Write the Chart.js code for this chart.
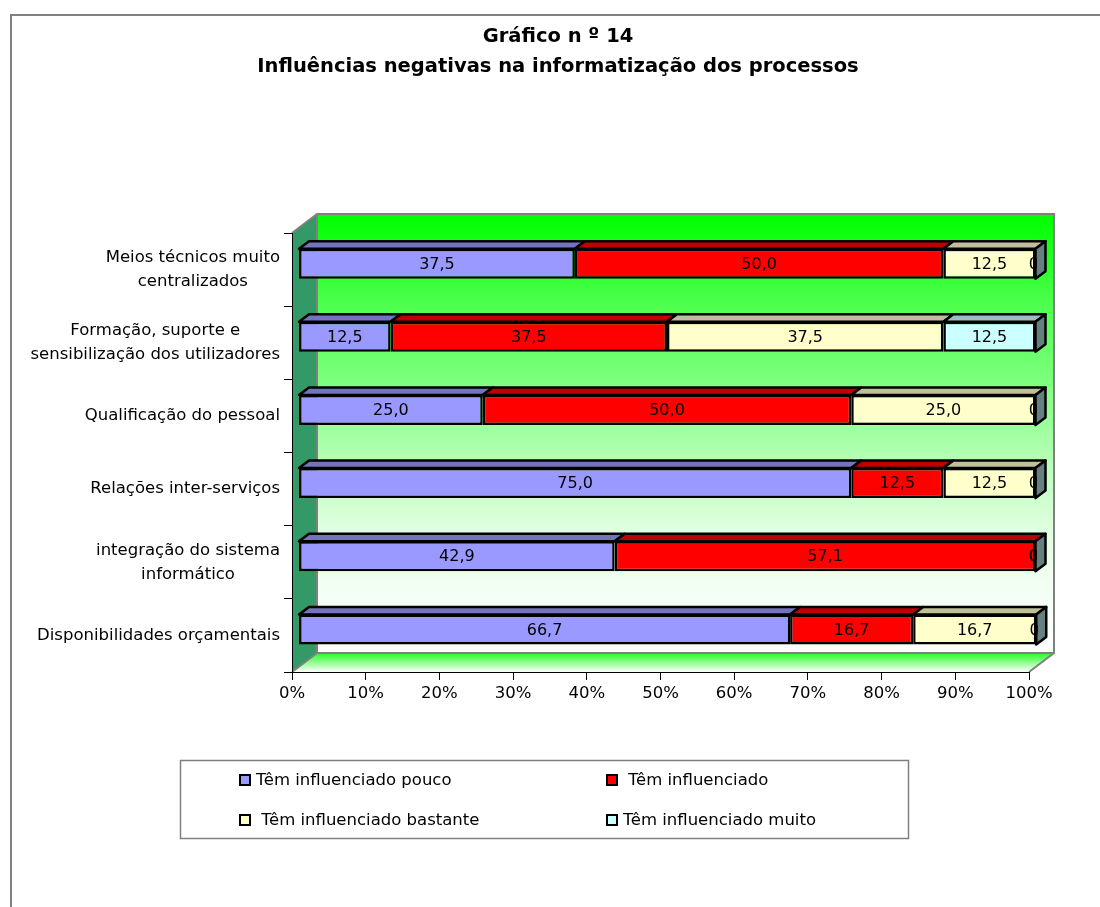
<!DOCTYPE html>
<html lang="pt">
<head>
<meta charset="utf-8">
<title>Gráfico n º 14</title>
<script src="https://cdn.jsdelivr.net/npm/chart.js@4.4.1/dist/chart.umd.min.js"></script>
<style>
  html, body { margin: 0; padding: 0; background: #ffffff; }
  #wrap { position: relative; width: 1100px; height: 907px; }
</style>
</head>
<body>
<div id="wrap"><canvas id="c" width="1100" height="907"></canvas></div>
<script>
// ---- data ----
const titleLines = ['Gráfico n º 14', 'Influências negativas na informatização dos processos'];
const categories = [
  ['Meios técnicos muito', 'centralizados'],
  ['Formação, suporte e', 'sensibilização dos utilizadores'],
  'Qualificação do pessoal',
  'Relações inter-serviços',
  ['integração do sistema', 'informático'],
  'Disponibilidades orçamentais'
];
const seriesNames = ['Têm influenciado pouco', ' Têm influenciado', ' Têm influenciado bastante', 'Têm influenciado muito'];
const pouco        = [37.5, 12.5, 25.0, 75.0, 42.9, 66.7];
const influenciado = [50.0, 37.5, 50.0, 12.5, 57.1, 16.7];
const bastante     = [12.5, 37.5, 25.0, 12.5,  0.0, 16.7];
const muito        = [ 0.0, 12.5,  0.0,  0.0,  0.0,  0.0];
const xTickLabels  = ['0%', '10%', '20%', '30%', '40%', '50%', '60%', '70%', '80%', '90%', '100%'];

// ---- styles ----
const FONT = 'DejaVu Sans';
const seriesColors = ['#9999FF', '#FF0000', '#FFFFCC', '#CCFFFF'];
const WALL_DX = 25, WALL_DY = 19;          // depth of the 3D box
const BAR_DX = 10, BAR_DY = 7.5;           // depth of each bar
const BAR_SHIFT_X = 6.5, BAR_SHIFT_Y = -6; // bars sit a little inside the box

function shade(hex, f) {
  const n = parseInt(hex.slice(1), 16);
  const r = Math.round(((n >> 16) & 255) * f);
  const g = Math.round(((n >> 8) & 255) * f);
  const b = Math.round((n & 255) * f);
  return `rgb(${r},${g},${b})`;
}
const fmt = v => v.toFixed(1).replace('.', ',');

// 3D box: back wall, floor and side wall, plus the outer frame
const boxPlugin = {
  id: 'box3d',
  beforeDraw(chart) {
    const { ctx, chartArea: a } = chart;
    ctx.save();
    ctx.strokeStyle = '#808080';
    ctx.lineWidth = 2;
    ctx.beginPath();
    ctx.moveTo(11, 907); ctx.lineTo(11, 15); ctx.lineTo(1100, 15);
    ctx.stroke();

    const bl = a.left + WALL_DX, bt = a.top - WALL_DY;
    const br = a.right + WALL_DX, bb = a.bottom - WALL_DY;

    const g = ctx.createLinearGradient(0, bt, 0, bb);
    g.addColorStop(0.00, '#00FF00');
    g.addColorStop(0.10, '#22FF22');
    g.addColorStop(0.20, '#4CFF4C');
    g.addColorStop(0.35, '#74FF74');
    g.addColorStop(0.50, '#A2FFA2');
    g.addColorStop(0.60, '#C2FFC2');
    g.addColorStop(0.72, '#E0FFE0');
    g.addColorStop(0.85, '#F2FFF2');
    g.addColorStop(1.00, '#FFFFFF');
    ctx.fillStyle = g;
    ctx.fillRect(bl, bt, br - bl, bb - bt);

    const fg = ctx.createLinearGradient(0, bb, 0, a.bottom);
    fg.addColorStop(0, '#22FF22');
    fg.addColorStop(1, '#FFFFFF');
    ctx.fillStyle = fg;
    ctx.beginPath();
    ctx.moveTo(a.left, a.bottom); ctx.lineTo(a.right, a.bottom);
    ctx.lineTo(br, bb); ctx.lineTo(bl, bb); ctx.closePath();
    ctx.fill();

    ctx.fillStyle = '#339966';
    ctx.beginPath();
    ctx.moveTo(a.left, a.top); ctx.lineTo(bl, bt);
    ctx.lineTo(bl, bb); ctx.lineTo(a.left, a.bottom); ctx.closePath();
    ctx.fill();

    ctx.strokeStyle = '#808080';
    ctx.lineWidth = 2;
    ctx.beginPath();
    ctx.moveTo(a.left, a.top); ctx.lineTo(bl, bt); ctx.lineTo(br, bt);
    ctx.lineTo(br, bb); ctx.lineTo(a.right, a.bottom);
    ctx.moveTo(bl, bt); ctx.lineTo(bl, bb); ctx.lineTo(br, bb);
    ctx.moveTo(a.left, a.bottom); ctx.lineTo(bl, bb);
    ctx.stroke();
    ctx.restore();
  },
  afterDraw(chart) {
    const { ctx, chartArea: a } = chart;
    const ys = chart.scales.y;
    ctx.save();
    // category labels: block right-aligned, lines centred within block
    ctx.font = `16.5px "${FONT}"`;
    ctx.fillStyle = '#000';
    ctx.textAlign = 'center';
    ctx.textBaseline = 'middle';
    const lh = 24;
    chart.data.labels.forEach((lab, i) => {
      const lines = Array.isArray(lab) ? lab : [lab];
      const w = Math.max(...lines.map(l => ctx.measureText(l).width));
      const cx = a.left - 12 - w / 2;
      const cy = ys.getPixelForValue(i);
      lines.forEach((l, k) => ctx.fillText(l, cx, cy + (k - (lines.length - 1) / 2) * lh));
    });

    // legend box, 2 x 2
    ctx.strokeStyle = '#808080';
    ctx.lineWidth = 1.5;
    ctx.strokeRect(180.5, 760.5, 728, 78);
    const cols = [240, 607], rows = [780, 820];
    ctx.textAlign = 'left';
    chart.data.datasets.forEach((ds, i) => {
      const x = cols[i % 2], y = rows[Math.floor(i / 2)];
      ctx.fillStyle = ds.backgroundColor;
      ctx.fillRect(x, y - 5, 10, 10);
      ctx.strokeStyle = '#000';
      ctx.lineWidth = 2;
      ctx.strokeRect(x, y - 5, 10, 10);
      ctx.fillStyle = '#000';
      ctx.fillText(ds.label, x + 16, y + 1);
    });
    ctx.restore();
  }
};

// 3D faces and value labels for the stacked bars
const barPlugin = {
  id: 'bars3d',
  beforeDatasetsDraw(chart) {
    chart.ctx.save();
    chart.ctx.translate(BAR_SHIFT_X, BAR_SHIFT_Y);
  },
  afterDatasetsDraw(chart) {
    const ctx = chart.ctx;
    const metas = chart.data.datasets.map((d, i) => chart.getDatasetMeta(i));
    const nRows = chart.data.labels.length;
    ctx.lineWidth = 2.5;
    ctx.strokeStyle = '#000';
    ctx.lineJoin = 'round';
    for (let r = 0; r < nRows; r++) {
      let start = Infinity, end = -Infinity, top = 0, bottom = 0;
      metas.forEach((m, d) => {
        const el = m.data[r];
        const l = Math.min(el.x, el.base), rt = Math.max(el.x, el.base);
        top = el.y - el.height / 2; bottom = el.y + el.height / 2;
        start = Math.min(start, l); end = Math.max(end, rt);
        if (rt - l < 0.5) return;
        ctx.fillStyle = shade(seriesColors[d], 0.75);
        ctx.beginPath();
        ctx.moveTo(l, top); ctx.lineTo(l + BAR_DX, top - BAR_DY);
        ctx.lineTo(rt + BAR_DX, top - BAR_DY); ctx.lineTo(rt, top);
        ctx.closePath(); ctx.fill(); ctx.stroke();
      });
      ctx.fillStyle = shade(seriesColors[seriesColors.length - 1], 0.5);
      ctx.beginPath();
      ctx.moveTo(end, top); ctx.lineTo(end + BAR_DX, top - BAR_DY);
      ctx.lineTo(end + BAR_DX, bottom - BAR_DY); ctx.lineTo(end, bottom);
      ctx.closePath(); ctx.fill(); ctx.stroke();

      // value labels, kept on the front face of the bar
      ctx.save();
      ctx.beginPath();
      ctx.rect(start, top, end - start + 1.5, bottom - top);
      ctx.clip();
      ctx.font = `16px "${FONT}"`;
      ctx.fillStyle = '#000';
      ctx.textAlign = 'center';
      ctx.textBaseline = 'middle';
      metas.forEach((m, d) => {
        const el = m.data[r];
        const v = chart.data.datasets[d].data[r];
        const w = Math.abs(el.x - el.base);
        const cx = (el.x + el.base) / 2 + (w < 0.5 ? 6 : 0);
        ctx.fillText(fmt(v), cx, el.y + 1);
      });
      ctx.restore();
    }
    ctx.restore();
  }
};

const series = [pouco, influenciado, bastante, muito];
new Chart(document.getElementById('c'), {
  type: 'bar',
  data: {
    labels: categories,
    datasets: series.map((vals, i) => ({
      label: seriesNames[i],
      data: vals,
      backgroundColor: seriesColors[i],
      borderColor: '#000',
      borderWidth: 2.5,
      borderSkipped: false,
      barPercentage: 0.41,
      categoryPercentage: 1,
      clip: false
    }))
  },
  options: {
    indexAxis: 'y',
    responsive: false,
    animation: false,
    events: [],
    layout: { padding: { left: 87, right: 71, top: 0, bottom: 195 } },
    scales: {
      x: {
        stacked: true, min: 0, max: 100,
        grid: { display: true, drawOnChartArea: false, drawTicks: true, tickLength: 8, color: '#000' },
        border: { display: true, color: '#000', width: 1 },
        ticks: {
          stepSize: 10, padding: 4, color: '#000',
          font: { family: FONT, size: 16.5 },
          callback: (v, i) => xTickLabels[i]
        },
        afterFit: s => { s.height = 40; }
      },
      y: {
        stacked: true,
        grid: { display: true, offset: true, drawOnChartArea: false, drawTicks: true, tickLength: 8, color: '#000' },
        border: { display: true, color: '#000', width: 1 },
        ticks: { display: false },
        afterFit: s => { s.width = 205; }
      }
    },
    plugins: {
      legend: { display: false },
      tooltip: { enabled: false },
      title: {
        display: true,
        text: titleLines,
        color: '#000',
        font: { family: FONT, size: 19.5, weight: 'bold', lineHeight: 1.54 },
        padding: { top: 22, bottom: 151 }
      }
    }
  },
  plugins: [boxPlugin, barPlugin]
});
</script>
</body>
</html>
